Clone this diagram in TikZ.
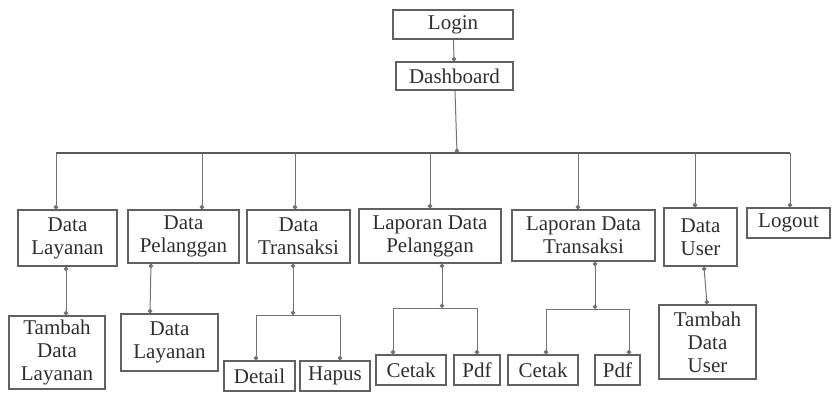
\documentclass[tikz,border=0pt]{standalone}
\usepackage{fontspec}
\setmainfont{Liberation Serif}
\usetikzlibrary{arrows.meta}
\begin{document}
\begin{tikzpicture}[x=1pt, y=-1pt,
        knob/.tip={Circle[length=4.5pt]},
        box/.style={draw=black!62, line width=1.4pt, text=black!82, align=center, inner sep=0pt, font=\fontsize{21}{23}\selectfont},
        link/.style={draw=black!55, line width=1pt, -knob},
        bus/.style={draw=black!65, line width=1.4pt}]
        \useasboundingbox (0,0) rectangle (833,392);
        \node[box, minimum width=120, minimum height=29] (login) at (453,24.5) {Login};
        \node[box, minimum width=117, minimum height=28] (dash) at (454.5,76) {Dashboard};

        \node[box, minimum width=99, minimum height=56] (layanan) at (67.5,238) {Data\\Layanan};
        \node[box, minimum width=111, minimum height=53] (pelanggan) at (183.5,236.5) {Data\\Pelanggan};
        \node[box, minimum width=103, minimum height=53] (transaksi) at (298.5,236.5) {Data\\Transaksi};
        \node[box, minimum width=142, minimum height=54] (lappel) at (430,236) {Laporan Data\\Pelanggan};
        \node[box, minimum width=143, minimum height=51] (laptrans) at (583.5,235.5) {Laporan Data\\Transaksi};
        \node[box, minimum width=73, minimum height=58] (user) at (700.5,237) {Data\\User};
        \node[box, minimum width=83, minimum height=30] (logout) at (788.5,223) {Logout};

        \node[box, minimum width=96, minimum height=73] (tambahlay) at (57,352.5) {Tambah\\Data\\Layanan};
        \node[box, minimum width=97, minimum height=57] (datalay) at (169.5,342.5) {Data\\Layanan};
        \node[box, minimum width=71, minimum height=30] (detail) at (259.5,376) {Detail};
        \node[box, minimum width=70, minimum height=30] (hapus) at (335,376) {Hapus};
        \node[box, minimum width=70, minimum height=30] (cetaka) at (411,370) {Cetak};
        \node[box, minimum width=46, minimum height=30] (pdfa) at (477,370) {Pdf};
        \node[box, minimum width=70, minimum height=30] (cetakb) at (543,370) {Cetak};
        \node[box, minimum width=45, minimum height=30] (pdfb) at (617.5,370) {Pdf};
        \node[box, minimum width=97, minimum height=74] (tambahuser) at (707.5,342) {Tambah\\Data\\User};

        \coordinate (bd) at (457,153);
        \coordinate (b1) at (56,153);
        \coordinate (b2) at (202,153);
        \coordinate (b3) at (295,153);
        \coordinate (b4) at (430,153);
        \coordinate (b5) at (578,153);
        \coordinate (b6) at (695,153);
        \coordinate (b7) at (790,153);
        \coordinate (tf) at (293,315);
        \coordinate (pf) at (442,308);
        \coordinate (rf) at (595,309);

        \draw[link] (login) -- (dash);
        \draw[link] (dash) -- (bd);
        \draw[bus] (b1) -- (b7);
        \draw[link] (b1) -- (b1 |- layanan.north);
        \draw[link] (b2) -- (b2 |- pelanggan.north);
        \draw[link] (b3) -- (b3 |- transaksi.north);
        \draw[link] (b4) -- (b4 |- lappel.north);
        \draw[link] (b5) -- (b5 |- laptrans.north);
        \draw[link] (b6) -- (b6 |- user.north);
        \draw[link] (b7) -- (b7 |- logout.north);

        \draw[link, knob-knob] (layanan.south -| 66,0) -- (tambahlay.north -| 66,0);
        \draw[link, knob-knob] (pelanggan.south -| 151,0) -- (datalay.north -| 150,0);
        \draw[link, knob-knob] (transaksi.south -| tf) -- (tf);
        \draw[link] (tf) -| (detail.north -| 256,0);
        \draw[link] (tf) -| (hapus.north -| 340,0);
        \draw[link, knob-knob] (lappel.south -| pf) -- (pf);
        \draw[link] (pf) -| (cetaka.north -| 393,0);
        \draw[link] (pf) -| (pdfa.north -| 477,0);
        \draw[link, knob-knob] (laptrans.south -| rf) -- (rf);
        \draw[link] (rf) -| (cetakb.north -| 546,0);
        \draw[link] (rf) -| (pdfb.north -| 629,0);
        \draw[link, knob-knob] (user.south -| 704,0) -- (tambahuser.north -| 707,0);
\end{tikzpicture}
\end{document}
